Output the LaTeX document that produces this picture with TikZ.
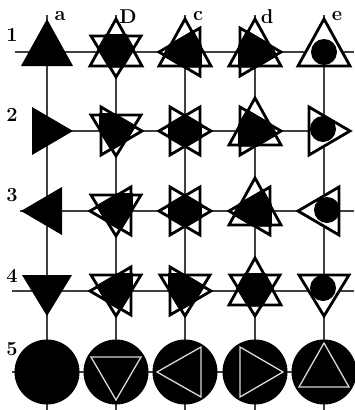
\documentclass[tikz,border=0pt]{standalone}
\usepackage{tikz}
\tikzset{
 gridline/.style={line width=1.3pt, black!75},
 outl/.style={line width=2.8pt, black, line join=miter},
 innerline/.style={line width=1.3pt, white!85!black},
 lab/.style={font=\fontsize{20}{20}\selectfont\bfseries, inner sep=0pt},
}
\newcommand\triU{(0,-33) -- (-26,14) -- (26,14) -- cycle}
\newcommand\triD{(0,25) -- (-25,-16) -- (25,-16) -- cycle}
\newcommand\triR{(26,0) -- (-15,-24) -- (-15,24) -- cycle}
\newcommand\triL{(-26,0) -- (15,-24) -- (15,24) -- cycle}
\newcommand\innD{(0,28) -- (-25,-15) -- (25,-15) -- cycle}
\newcommand\innL{(-28,0) -- (16,-25) -- (16,25) -- cycle}
\newcommand\innR{(28,0) -- (-15,-25) -- (-15,25) -- cycle}
\newcommand\innU{(0,-29) -- (-25,15) -- (25,15) -- cycle}
\newcommand\ovl[4]{%
 \begin{scope}[shift={(#1,#2)}]
  \fill[white] #3; \fill[white] #4;
  \draw[outl] #3; \draw[outl] #4;
  \begin{scope}[scale=1.12]\clip #3; \fill[black] #4;\end{scope}
 \end{scope}}
\newcommand\cole[5]{%
 \begin{scope}[shift={(#1,#2)}]
  \fill[white] #3; \draw[outl] #3;
  \fill[black] (#4,#5) circle[radius=13];
 \end{scope}}
\newcommand\rowf[2]{%
 \fill[black] (#1,372) circle[radius=32.5];
 \draw[innerline, shift={(#1,372)}] #2;}
\begin{document}
\begin{tikzpicture}[x=1pt,y=-1pt]
\useasboundingbox (0,0) rectangle (354,410);
\fill[white] (0,0) rectangle (354,410);
% grid
\draw[gridline] (15,52) -- (354,52);
\draw[gridline] (32,131) -- (347,131);
\draw[gridline] (20,211) -- (354,211);
\draw[gridline] (12,291) -- (354,291);
\draw[gridline] (12,372) -- (354,372);
\foreach \x in {47,116,185,255,324} \draw[gridline] (\x,15) -- (\x,410);
% column a
\fill[black, shift={(47,52)}] \triU;
\fill[black, shift={(47,131)}] \triR;
\fill[black, shift={(47,211)}] \triL;
\fill[black, shift={(47,291)}] \triD;
% overlays
\ovl{116}{52}{\triU}{\triD}
\ovl{185}{52}{\triU}{\triL}
\ovl{255}{52}{\triU}{\triR}
\ovl{116}{131}{\triR}{\triD}
\ovl{185}{131}{\triR}{\triL}
\ovl{255}{131}{\triR}{\triU}
\ovl{116}{211}{\triL}{\triD}
\ovl{185}{211}{\triL}{\triR}
\ovl{255}{211}{\triL}{\triU}
\ovl{116}{291}{\triD}{\triL}
\ovl{185}{291}{\triD}{\triR}
\ovl{255}{291}{\triD}{\triU}
% column e
\cole{324}{52}{\triU}{0}{0}
\cole{324}{131}{\triR}{-1}{-2}
\cole{324}{211}{\triL}{3}{-1}
\cole{324}{291}{\triD}{-1}{-3}
% row 5
\fill[black] (47,372) circle[radius=32.5];
\rowf{116}{\innD}
\rowf{185}{\innL}
\rowf{255}{\innR}
\rowf{324}{\innU}
% labels
\node[lab] (r1) at (12,35) {1};
\node[lab] (r2) at (12,115) {2};
\node[lab] (r3) at (12,195) {3};
\node[lab] (r4) at (12,276) {4};
\node[lab] (r5) at (12,349) {5};
\node[lab] (ca) at (60,16) {a};
\node[lab] (cb) at (128,17) {D};
\node[lab] (cc) at (198,16) {c};
\node[lab] (cd) at (267,17) {d};
\node[lab] (ce) at (337,16) {e};
\end{tikzpicture}
\end{document}
